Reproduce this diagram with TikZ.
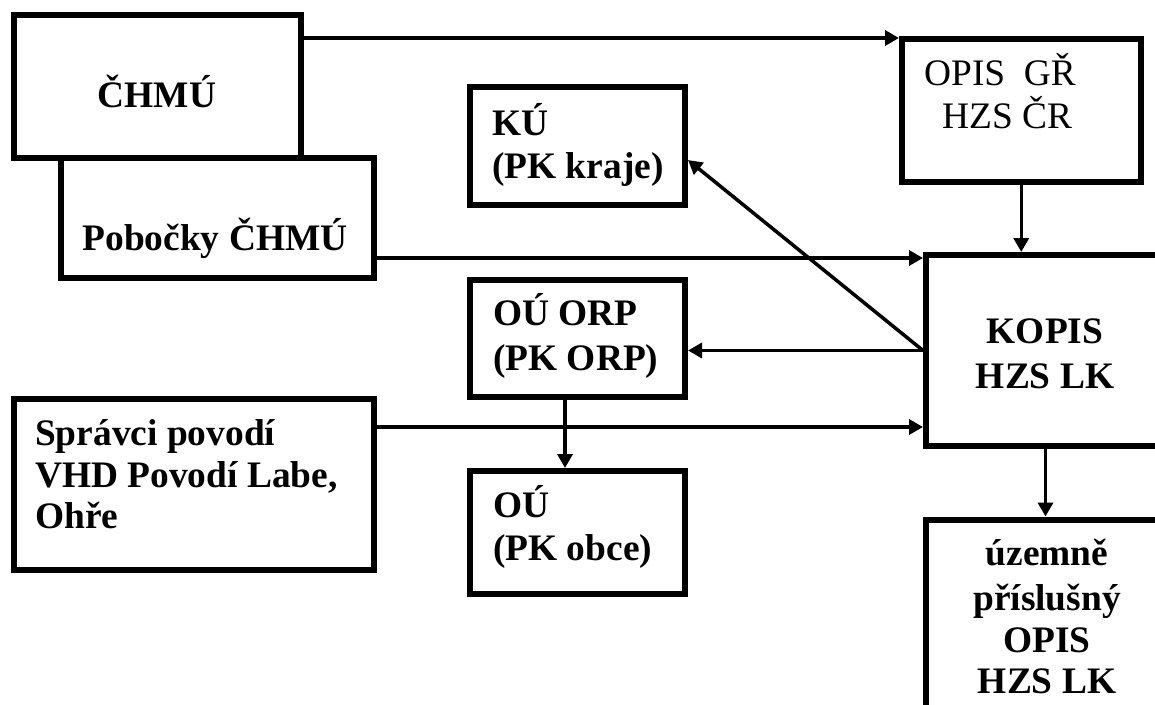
\documentclass[tikz,border=0pt]{standalone}
\usepackage{fontspec}
\setmainfont{Liberation Serif}
\usetikzlibrary{arrows.meta,calc}
\tikzset{
  box/.style={draw, line width=6pt, inner sep=0pt},
  lbl/.style={inner sep=0pt, font=\fontsize{37.4}{43}\selectfont\bfseries},
  lblr/.style={inner sep=0pt, font=\fontsize{37.4}{43}\selectfont},
  conn/.style={line width=3.5pt, -{Triangle[length=14pt,width=15pt]}},
}
\begin{document}
\begin{tikzpicture}[x=1pt,y=-1pt]
\useasboundingbox (0,0) rectangle (1155,704);
\clip (0,0) rectangle (1155,704);
% boxes
\node[box, minimum width=287.5pt, minimum height=142.5pt] (chmu) at (157.25,86.25) {};
\node[box, minimum width=313pt, minimum height=119.5pt] (pob) at (217.5,217.75) {};
\node[box, minimum width=238.5pt, minimum height=142.5pt] (opis) at (1021.25,110.25) {};
\node[box, minimum width=215pt, minimum height=118pt] (ku) at (577.5,146) {};
\node[box, minimum width=215pt, minimum height=117pt] (orp) at (577.5,338.5) {};
\node[box, minimum width=215pt, minimum height=123pt] (ou) at (577.5,532.5) {};
\node[box, minimum width=360pt, minimum height=171pt] (spr) at (194,484.5) {};
\node[box, minimum width=239pt, minimum height=191pt] (kopis) at (1045.5,350.5) {};
\node[box, minimum width=239pt, minimum height=195.5pt] (low) at (1045.5,617.25) {};
% texts
\node[lbl, anchor=base] (tchmu) at (157,107) {ČHMÚ};
\node[lbl, anchor=base] (tpob) at (215,250) {Pobočky ČHMÚ};
\node[lblr, anchor=base west] (topis1) at (924,85) {OPIS~~GŘ};
\node[lblr, anchor=base west] (topis2) at (942,128) {HZS ČR};
\node[lbl, anchor=base west] (tku1) at (492,135) {KÚ};
\node[lbl, anchor=base west] (tku2) at (492,178) {(PK kraje)};
\node[lbl, anchor=base west] (torp1) at (493,325) {OÚ ORP};
\node[lbl, anchor=base west] (torp2) at (493,370) {(PK ORP)};
\node[lbl, anchor=base west] (tou1) at (493,517) {OÚ};
\node[lbl, anchor=base west] (tou2) at (493,560) {(PK obce)};
\node[lbl, anchor=base west] (tspr1) at (35,445) {Správci povodí};
\node[lbl, anchor=base west] (tspr2) at (35,487) {VHD Povodí Labe,};
\node[lbl, anchor=base west] (tspr3) at (35,528) {Ohře};
\node[lbl, anchor=base] (tkop1) at (1045,343) {KOPIS};
\node[lbl, anchor=base] (tkop2) at (1045,388) {HZS LK};
\node[lbl, anchor=base] (tlow1) at (1047,565) {územně};
\node[lbl, anchor=base] (tlow2) at (1047,610) {příslušný};
\node[lbl, anchor=base] (tlow3) at (1047,652) {OPIS};
\node[lbl, anchor=base] (tlow4) at (1047,693) {HZS LK};
% connectors
\coordinate (eopis) at ([yshift=-2pt]opis.north west);
\coordinate (ekop1) at ([yshift=-6pt]kopis.north west);
\coordinate (ekop2) at ([yshift=-76.5pt]kopis.west);
\coordinate (eku) at ([yshift=-14pt]ku.east);
\draw[conn] (chmu.east |- eopis) -- (eopis);
\draw[conn] (pob.east |- ekop1) -- (ekop1);
\draw[conn] (spr.east |- ekop2) -- (ekop2);
\draw[conn] (kopis.west) -- (eku);
\draw[conn] (kopis.west) -- (orp.east |- kopis.west);
\draw[conn] ([xshift=-12.5pt]orp.south) -- ([xshift=-12.5pt]ou.north);
\draw[conn] (opis.south) -- (opis.south |- kopis.north);
\draw[conn] (kopis.south) -- (low.north);
\end{tikzpicture}
\end{document}
